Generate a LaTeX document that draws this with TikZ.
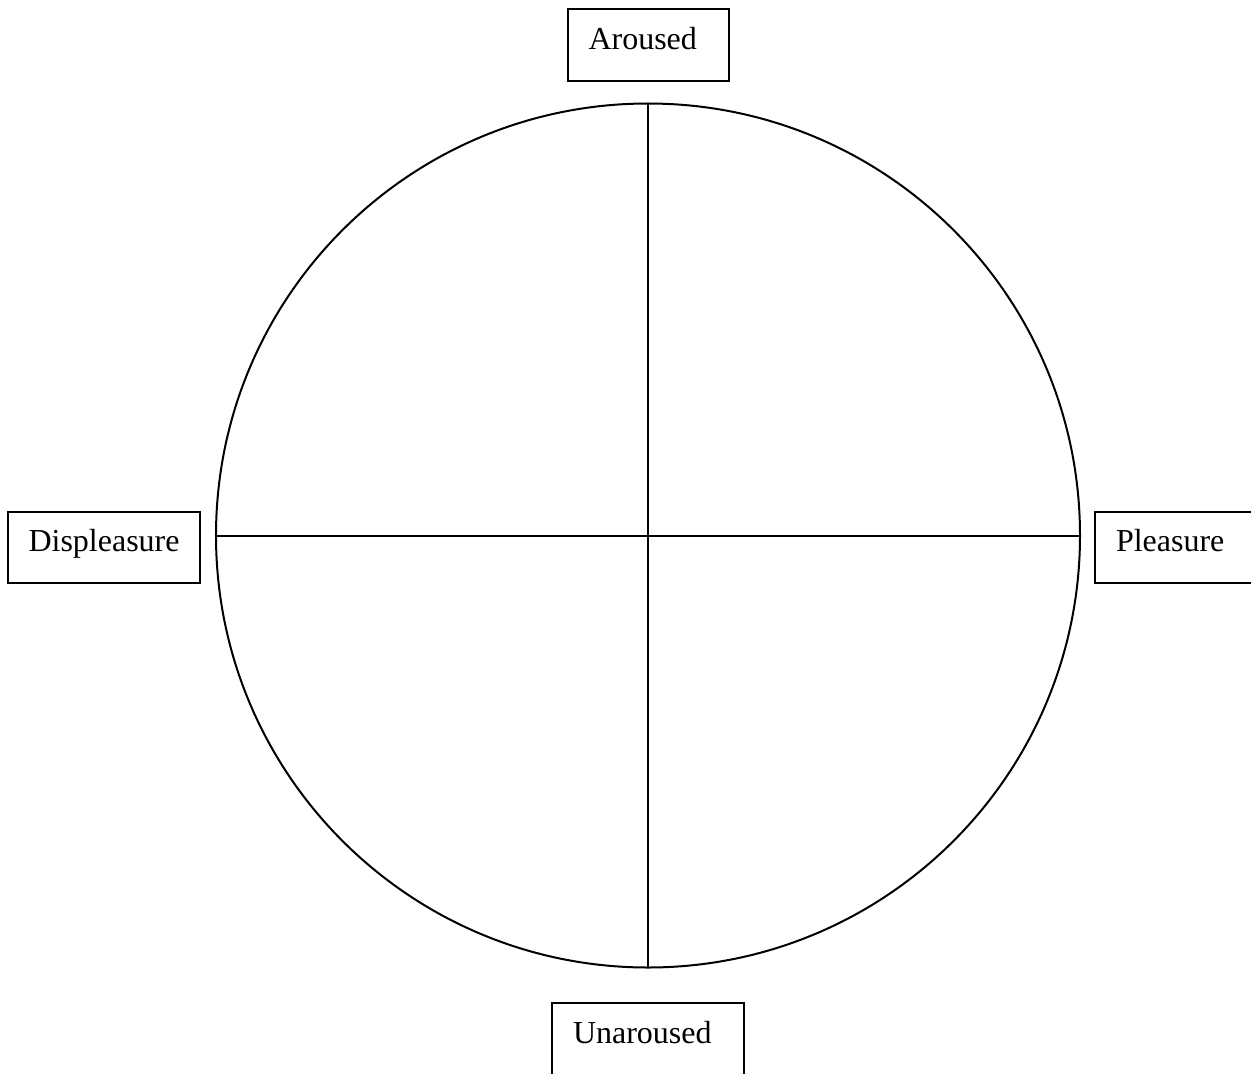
\documentclass[tikz,border=0pt]{standalone}
\usepackage{fontspec}
\setmainfont{Liberation Serif}
\begin{document}
\begin{tikzpicture}[x=1bp,y=-1bp,
  lbl/.style={draw, line width=2bp, anchor=north west, inner xsep=21bp, inner ysep=0pt,
    outer sep=0pt, align=left, font=\fontsize{32bp}{38bp}\selectfont, text height=41bp, text depth=31bp}]
\useasboundingbox (0,0) rectangle (1251,1074);
\clip (0,0) rectangle (1251,1074);
\node[draw, circle, line width=2bp, minimum size=864bp, inner sep=0pt, outer sep=0pt] (c) at (648,535.5) {};
\draw[line width=2bp] (c.north) -- (c.south);
\draw[line width=2bp] (c.west) -- (c.east);
\node[lbl, text width=119bp] (a) at (567.5,8.5) {Aroused};
\node[lbl, text width=150bp, text height=40bp] (d) at (7.5,511.5) {Displeasure};
\node[lbl, text width=180bp, text height=40bp] (p) at (1095,511.5) {Pleasure};
\node[lbl, text width=150bp, text height=41bp] (u) at (552,1002.5) {Unaroused};
\end{tikzpicture}
\end{document}
